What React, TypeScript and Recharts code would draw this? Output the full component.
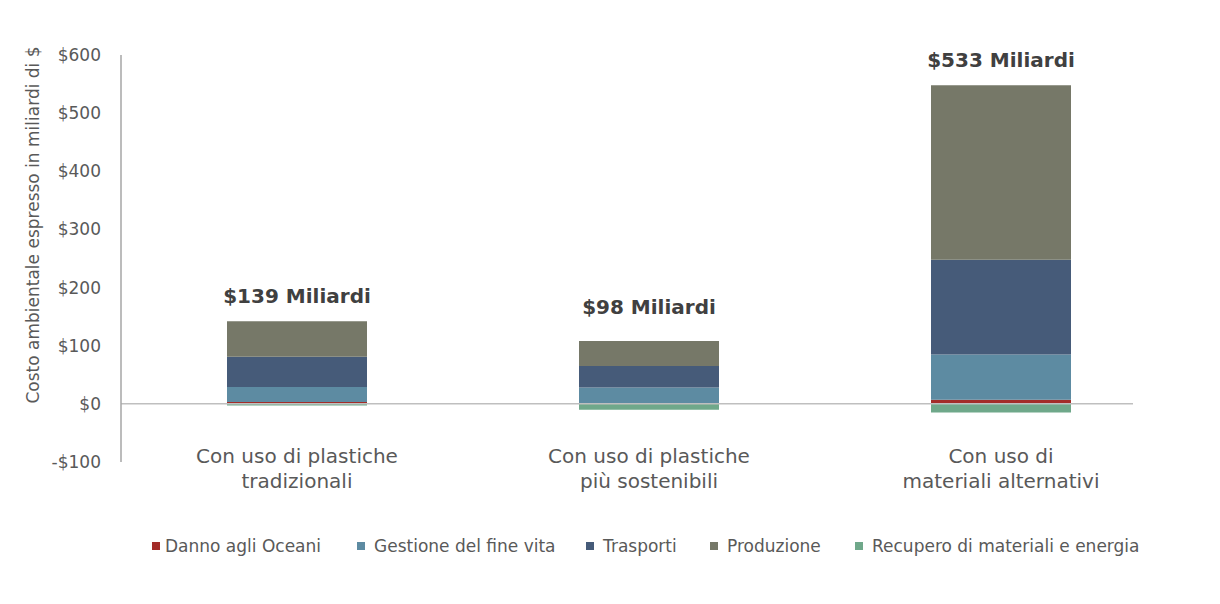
import React from "react";
import {
  ComposedChart,
  Bar,
  XAxis,
  YAxis,
  ReferenceLine,
  Legend,
  LabelList,
} from "recharts";

const categories = [
  ["Con uso di plastiche", "tradizionali"],
  ["Con uso di plastiche", "più sostenibili"],
  ["Con uso di", "materiali alternativi"],
];
const totalLabels = ["$139 Miliardi", "$98 Miliardi", "$533 Miliardi"];
const danno = [3, 1, 7];
const gestione = [26, 27, 78];
const trasporti = [52, 37, 163];
const produzione = [61, 43, 300];
const recupero = [-3, -10, -15];
const yTicks = [-100, 0, 100, 200, 300, 400, 500, 600];

const seriesNames = [
  "Danno agli Oceani",
  "Gestione del fine vita",
  "Trasporti",
  "Produzione",
  "Recupero di materiali e energia",
];
const seriesColors = ["#a32c28", "#5d8ba2", "#465b79", "#767868", "#6fa88a"];

const data = categories.map((c, i) => ({
  x: i + 0.5,
  danno: danno[i],
  gestione: gestione[i],
  trasporti: trasporti[i],
  produzione: produzione[i],
  recupero: recupero[i],
}));

const FONT = "'DejaVu Sans', sans-serif";
const legendX = [152, 357, 586, 710, 855];
const labelGap = [18, 27, 18];

const XTick = (props: any) => {
  const { x, y, payload } = props;
  const idx = Math.round(payload.value - 0.5);
  const lines = categories[idx] || [];
  return (
    <g>
      {lines.map((l, k) => (
        <text
          key={k}
          x={x}
          y={y - 1 + k * 25}
          textAnchor="middle"
          fill="#595959"
          fontSize={20}
          fontFamily={FONT}
        >
          {l}
        </text>
      ))}
    </g>
  );
};

const LegendContent = () => (
  <div style={{ position: "relative", width: 1220, height: 20 }}>
    {seriesNames.map((n, i) => (
      <div
        key={n}
        style={{
          position: "absolute",
          left: legendX[i],
          top: 0,
          display: "flex",
          alignItems: "center",
          whiteSpace: "nowrap",
          fontFamily: FONT,
          fontSize: 17,
          color: "#595959",
        }}
      >
        <span
          style={{
            display: "inline-block",
            width: 8,
            height: 8,
            background: seriesColors[i],
            marginRight: i === 0 ? 5 : 9,
          }}
        />
        {n}
      </div>
    ))}
  </div>
);

export default function App() {
  return (
    <div style={{ position: "absolute", left: 0, top: 0, background: "#fff" }}>
      <ComposedChart
        width={1220}
        height={604}
        data={data}
        stackOffset="sign"
        margin={{ top: 55, right: 87, left: 0, bottom: 82 }}
      >
        <XAxis
          type="number"
          dataKey="x"
          domain={[0, 2.875]}
          ticks={[0.5, 1.5, 2.5]}
          axisLine={false}
          tickLine={false}
          tickSize={0}
          height={40}
          tick={<XTick />}
          interval={0}
        />
        <YAxis
          type="number"
          domain={[-100, 600]}
          ticks={yTicks}
          width={121}
          tickLine={false}
          tickSize={0}
          tickMargin={20}
          axisLine={{ stroke: "#a6a6a6", strokeWidth: 1.5 }}
          tickFormatter={(v: number) => (v < 0 ? `-$${-v}` : `$${v}`)}
          tick={{ fill: "#595959", fontSize: 17, fontFamily: FONT }}
          interval={0}
          label={{
            content: () => (
              <text
                x={39}
                y={225}
                transform="rotate(-90 39 225)"
                textAnchor="middle"
                fill="#595959"
                fontSize={17}
                fontFamily={FONT}
              >
                Costo ambientale espresso in miliardi di $
              </text>
            ),
          }}
        />
        <ReferenceLine y={0} stroke="#bfbfbf" strokeWidth={1.5} />
        <Bar dataKey="danno" stackId="a" fill={seriesColors[0]} barSize={140} isAnimationActive={false} />
        <Bar dataKey="gestione" stackId="a" fill={seriesColors[1]} barSize={140} isAnimationActive={false} />
        <Bar dataKey="trasporti" stackId="a" fill={seriesColors[2]} barSize={140} isAnimationActive={false} />
        <Bar dataKey="produzione" stackId="a" fill={seriesColors[3]} barSize={140} isAnimationActive={false}>
          <LabelList
            dataKey="produzione"
            content={(p: any) => (
              <text
                x={p.x + p.width / 2}
                y={p.y - labelGap[p.index]}
                textAnchor="middle"
                fill="#404040"
                fontSize={20}
                fontWeight="bold"
                fontFamily={FONT}
              >
                {totalLabels[p.index]}
              </text>
            )}
          />
        </Bar>
        <Bar dataKey="recupero" stackId="a" fill={seriesColors[4]} barSize={140} isAnimationActive={false} />
        <Legend
          verticalAlign="bottom"
          content={<LegendContent />}
          wrapperStyle={{ left: 0, top: 536, width: 1220 }}
        />
      </ComposedChart>
    </div>
  );
}
